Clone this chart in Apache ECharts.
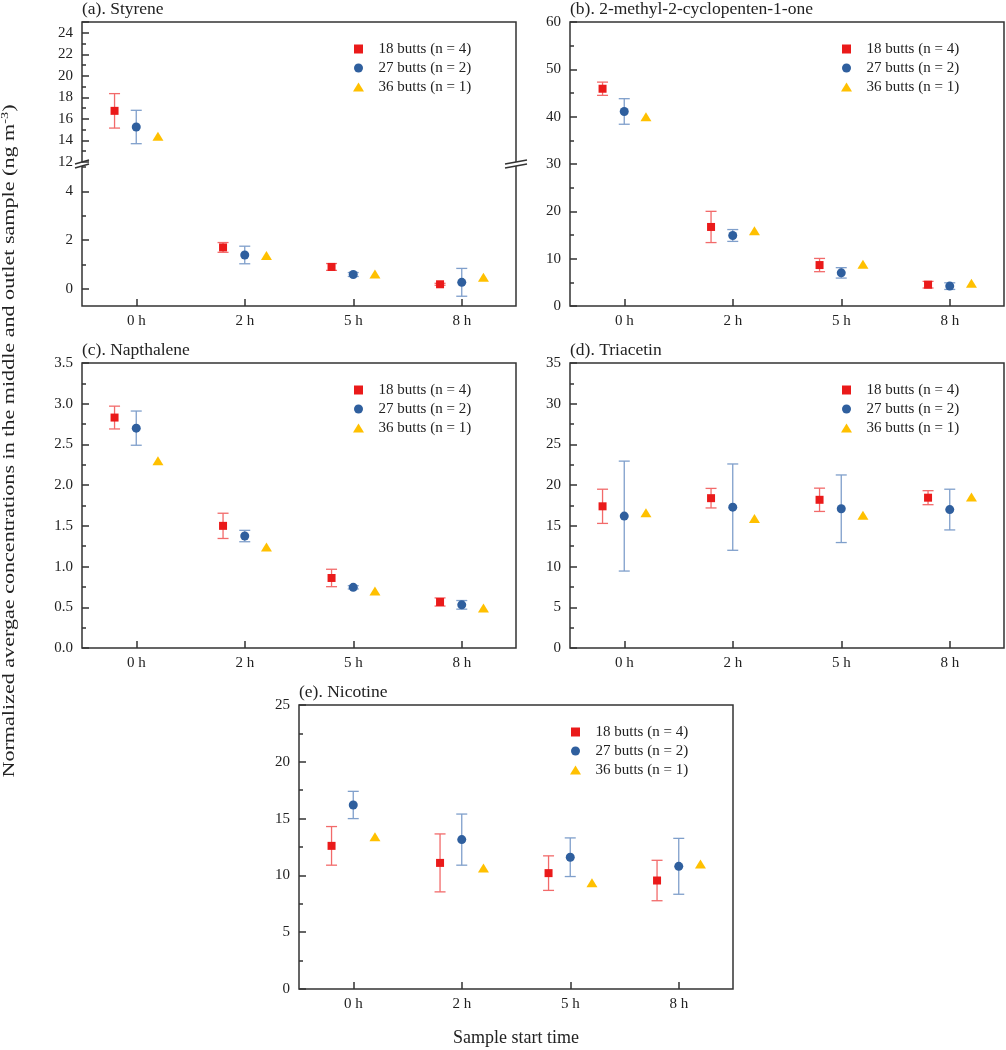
<!DOCTYPE html>
<html><head><meta charset="utf-8">
<script src="https://cdn.jsdelivr.net/npm/echarts@6/dist/echarts.min.js"></script>
<style>html,body{margin:0;padding:0;background:#fff;}#main{width:1006px;height:1050px;}</style>
</head><body><div id="main"></div>
<script>
// ---------------- data ----------------
const categories = ['0 h', '2 h', '5 h', '8 h'];
const groupNames = ['18 butts (n = 4)', '27 butts (n = 2)', '36 butts (n = 1)'];

// (a) Styrene
const styrene18 = [16.75, 1.70, 0.90, 0.19];
const styrene18Err = [1.6, 0.2, 0.14, 0.04];
const styrene27 = [15.25, 1.39, 0.59, 0.27];
const styrene27Err = [1.55, 0.36, 0.08, 0.57];
const styrene36 = [14.4, 1.37, 0.61, 0.48];
const styreneUpperTicks = [12, 14, 16, 18, 20, 22, 24];
const styreneLowerTicks = [0, 2, 4];
const styreneLowerMinor = [1, 3, 5];

// (b) 2-methyl-2-cyclopenten-1-one
const cyclo18 = [45.9, 16.7, 8.65, 4.5];
const cyclo18Err = [1.4, 3.3, 1.4, 0.7];
const cyclo27 = [41.1, 14.9, 7.0, 4.2];
const cyclo27Err = [2.7, 1.25, 1.1, 0.7];
const cyclo36 = [40.0, 15.9, 8.8, 4.8];

// (c) Napthalene
const naph18 = [2.83, 1.50, 0.86, 0.565];
const naph18Err = [0.14, 0.155, 0.107, 0.05];
const naph27 = [2.70, 1.375, 0.745, 0.53];
const naph27Err = [0.21, 0.07, 0.02, 0.053];
const naph36 = [2.30, 1.24, 0.70, 0.49];

// (d) Triacetin
const triac18 = [17.4, 18.4, 18.2, 18.46];
const triac18Err = [2.1, 1.2, 1.43, 0.86];
const triac27 = [16.2, 17.3, 17.1, 17.0];
const triac27Err = [6.75, 5.3, 4.15, 2.5];
const triac36 = [16.6, 15.9, 16.3, 18.55];

// (e) Nicotine
const nic18 = [12.6, 11.1, 10.2, 9.55];
const nic18Err = [1.7, 2.55, 1.52, 1.78];
const nic27 = [16.2, 13.15, 11.6, 10.8];
const nic27Err = [1.2, 2.25, 1.7, 2.46];
const nic36 = [13.4, 10.65, 9.35, 11.0];

// ---------------- styling ----------------
const SERIF = '"Liberation Serif", "Times New Roman", serif';
const TXT = '#222';
const FRAME = '#333';
const MARK_COLORS = ['#ea1a1a', '#2f5f9e', '#ffc000'];
const ERR_COLORS = ['#f26a6a', '#7f9fcb', '#ffc000'];
const SYMBOLS = ['rect', 'circle', 'triangle'];
const SYMBOL_SIZES = [8, 9, [11, 9]];
const LEGEND_ICONS = ['path://M0,0H10V10H0Z', 'circle', 'path://M5.5,0L11,9L0,9Z'];
const OFFSETS = [-0.2, 0, 0.2];

const option = {
  animation: false,
  backgroundColor: '#fff',
  title: [], grid: [], xAxis: [], yAxis: [], series: [], legend: [], graphic: []
};

function addGrid(r, show) {
  option.grid.push({
    left: r.left, top: r.top, width: r.width, height: r.height,
    show: show, borderColor: FRAME, borderWidth: 1.5, backgroundColor: 'transparent'
  });
  return option.grid.length - 1;
}

function addXAxis(gi, visible) {
  option.xAxis.push({
    gridIndex: gi, type: 'value', min: -0.5, max: 3.5, show: visible,
    splitLine: { show: false },
    axisLine: { show: false, onZero: false },
    axisTick: { show: true, inside: true, length: 7, customValues: [0, 1, 2, 3], lineStyle: { color: FRAME, width: 1.5 } },
    axisLabel: {
      customValues: [0, 1, 2, 3], formatter: v => categories[Math.round(v)],
      fontFamily: SERIF, fontSize: 15, color: TXT, margin: 8
    }
  });
  return option.xAxis.length - 1;
}

function addYAxis(gi, cfg) {
  const ax = {
    gridIndex: gi, type: 'value', position: 'left',
    min: cfg.min, max: cfg.max,
    splitLine: { show: false },
    axisLine: { show: false, onZero: false },
    axisTick: { show: true, inside: true, length: 7, lineStyle: { color: FRAME, width: 1.5 } },
    minorTick: { show: !!cfg.minor, splitNumber: 2, length: 4, lineStyle: { color: FRAME, width: 1.5 } },
    axisLabel: {
      fontFamily: SERIF, fontSize: 15, color: TXT, margin: 9,
      showMaxLabel: cfg.showMax !== false,
      formatter: cfg.fmt || (v => String(v))
    }
  };
  if (cfg.interval != null) ax.interval = cfg.interval;
  if (cfg.labels) { ax.axisLabel.customValues = cfg.labels; ax.axisTick.customValues = cfg.labels; }
  if (cfg.minorOnly) {
    ax.axisLabel.show = false;
    ax.axisTick.length = 4;
    ax.axisTick.customValues = cfg.minorOnly;
    ax.minorTick.show = false;
  }
  option.yAxis.push(ax);
  return option.yAxis.length - 1;
}

function addGroup(xi, yi, g, values, errs, keep) {
  const idx = values.map((v, i) => i).filter(i => keep(values[i]));
  option.series.push({
    type: 'custom', name: 'err' + g, xAxisIndex: xi, yAxisIndex: yi, z: 2, silent: true,
    data: errs ? idx.map(i => [i + OFFSETS[g], values[i] - errs[i], values[i] + errs[i]]) : [],
    encode: { x: 0, y: [1, 2] },
    renderItem: function (params, api) {
      const x = api.value(0);
      const lo = api.coord([x, api.value(1)]);
      const hi = api.coord([x, api.value(2)]);
      const hw = 5.5;
      const st = { stroke: ERR_COLORS[g], lineWidth: 1.3 };
      return {
        type: 'group', children: [
          { type: 'line', shape: { x1: lo[0], y1: lo[1], x2: hi[0], y2: hi[1] }, style: st },
          { type: 'line', shape: { x1: hi[0] - hw, y1: hi[1], x2: hi[0] + hw, y2: hi[1] }, style: st },
          { type: 'line', shape: { x1: lo[0] - hw, y1: lo[1], x2: lo[0] + hw, y2: lo[1] }, style: st }
        ]
      };
    }
  });
  option.series.push({
    type: 'scatter', name: groupNames[g], xAxisIndex: xi, yAxisIndex: yi, z: 3, silent: true,
    symbol: SYMBOLS[g], symbolSize: SYMBOL_SIZES[g],
    itemStyle: { color: MARK_COLORS[g], opacity: 1 },
    data: idx.map(i => [i + OFFSETS[g], values[i]])
  });
}

function addDecor(r, title) {
  option.title.push({
    text: title, left: r.left, top: r.top - 22, padding: 0,
    textStyle: { fontFamily: SERIF, fontSize: 17.5, fontWeight: 'normal', color: TXT }
  });
  option.legend.push({
    orient: 'vertical', left: r.left + 271, top: r.top + 19.5, padding: 0,
    itemWidth: 30, itemHeight: 9, itemGap: 4, selectedMode: false,
    textStyle: { fontFamily: SERIF, fontSize: 15, color: TXT, lineHeight: 15 },
    data: groupNames.map((n, g) => ({ name: n, icon: LEGEND_ICONS[g], itemStyle: { color: MARK_COLORS[g] } }))
  });
}

function simplePanel(r, title, yCfg, s18, e18, s27, e27, s36) {
  const gi = addGrid(r, true);
  const xi = addXAxis(gi, true);
  const yi = addYAxis(gi, yCfg);
  const all = () => true;
  addGroup(xi, yi, 0, s18, e18, all);
  addGroup(xi, yi, 1, s27, e27, all);
  addGroup(xi, yi, 2, s36, null, all);
  addDecor(r, title);
}

// ---------------- layout ----------------
const RA = { left: 82, top: 22, width: 434, height: 284 };
const RB = { left: 570, top: 22, width: 434, height: 284 };
const RC = { left: 82, top: 363, width: 434, height: 285 };
const RD = { left: 570, top: 363, width: 434, height: 285 };
const RE = { left: 299, top: 705, width: 434, height: 284 };
const BREAK_FRAC = 0.493; // share of panel (a) height for upper segment

// ---- panel (a) with broken axis ----
(function () {
  const fg = addGrid(RA, true);
  option.xAxis.push({ gridIndex: fg, type: 'value', show: false, min: 0, max: 1 });
  option.yAxis.push({ gridIndex: fg, type: 'value', show: false, min: 0, max: 1 });
  const upH = Math.round(RA.height * BREAK_FRAC);
  const up = { left: RA.left, top: RA.top, width: RA.width, height: upH };
  const lo = { left: RA.left, top: RA.top + upH, width: RA.width, height: RA.height - upH };
  const gu = addGrid(up, false);
  const gl = addGrid(lo, false);
  const xu = addXAxis(gu, false);
  const xl = addXAxis(gl, true);
  const yu = addYAxis(gu, { min: 12, max: 25, interval: 2, minor: true, showMax: false });
  const yl = addYAxis(gl, { min: -0.7, max: 5.2, labels: styreneLowerTicks });
  addYAxis(gl, { min: -0.7, max: 5.2, minorOnly: styreneLowerMinor });
  const isUp = v => v >= 12, isLo = v => v < 12;
  addGroup(xu, yu, 0, styrene18, styrene18Err, isUp);
  addGroup(xu, yu, 1, styrene27, styrene27Err, isUp);
  addGroup(xu, yu, 2, styrene36, null, isUp);
  addGroup(xl, yl, 0, styrene18, styrene18Err, isLo);
  addGroup(xl, yl, 1, styrene27, styrene27Err, isLo);
  addGroup(xl, yl, 2, styrene36, null, isLo);
  addDecor(RA, '(a). Styrene');
  // break marks
  const by = RA.top + upH + 1;
  function brk(cx, hw) {
    return {
      type: 'group', z: 100, children: [
        { type: 'polygon', shape: { points: [[cx - hw, by + 1], [cx + hw, by - 3], [cx + hw, by + 1], [cx - hw, by + 5]] }, style: { fill: '#fff' } },
        { type: 'line', shape: { x1: cx - hw, y1: by + 1, x2: cx + hw, y2: by - 3 }, style: { stroke: FRAME, lineWidth: 1.5 } },
        { type: 'line', shape: { x1: cx - hw, y1: by + 5, x2: cx + hw, y2: by + 1 }, style: { stroke: FRAME, lineWidth: 1.5 } }
      ]
    };
  }
  option.graphic.push(brk(RA.left, 7));
  option.graphic.push(brk(RA.left + RA.width, 11));
})();

simplePanel(RB, '(b). 2-methyl-2-cyclopenten-1-one', { min: 0, max: 60, interval: 10, minor: true },
  cyclo18, cyclo18Err, cyclo27, cyclo27Err, cyclo36);
simplePanel(RC, '(c). Napthalene', { min: 0, max: 3.5, interval: 0.5, minor: true, fmt: v => v.toFixed(1) },
  naph18, naph18Err, naph27, naph27Err, naph36);
simplePanel(RD, '(d). Triacetin', { min: 0, max: 35, interval: 5, minor: true },
  triac18, triac18Err, triac27, triac27Err, triac36);
simplePanel(RE, '(e). Nicotine', { min: 0, max: 25, interval: 5, minor: true },
  nic18, nic18Err, nic27, nic27Err, nic36);

// axis titles
option.graphic.push({
  type: 'text', x: 10, y: 441, rotation: Math.PI / 2, scaleX: 1.3, z: 100,
  style: {
    text: '{b|Normalized avergae concentrations in the middle and outlet sample (ng m}{s|-3}{b|)}',
    align: 'center', verticalAlign: 'middle',
    rich: {
      b: { fontFamily: SERIF, fontSize: 17, fill: TXT, lineHeight: 20 },
      s: { fontFamily: SERIF, fontSize: 11, fill: TXT, verticalAlign: 'top', lineHeight: 20 }
    }
  }
});
option.graphic.push({
  type: 'text', x: RE.left + RE.width / 2, y: 1038, z: 100,
  style: { text: 'Sample start time', fontFamily: SERIF, fontSize: 18, fill: TXT, align: 'center', verticalAlign: 'middle' }
});

const chart = echarts.init(document.getElementById('main'), null, { renderer: 'canvas' });
chart.setOption(option);
</script></body></html>
